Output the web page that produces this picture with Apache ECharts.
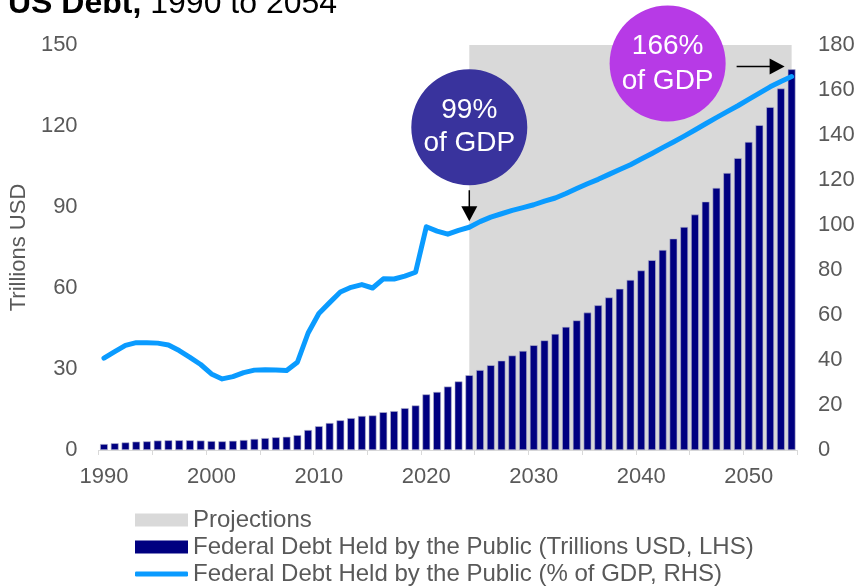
<!DOCTYPE html>
<html>
<head>
<meta charset="utf-8">
<script src="https://cdn.jsdelivr.net/npm/echarts@6/dist/echarts.min.js"></script>
<style>
  html, body { margin: 0; padding: 0; background: #fff; }
  #chart { width: 863px; height: 588px; }
</style>
</head>
<body>
<div id="chart"></div>
<script>
// Fiscal years on the category axis
const years = [
  '1990','1991','1992','1993','1994','1995','1996','1997','1998','1999',
  '2000','2001','2002','2003','2004','2005','2006','2007','2008','2009',
  '2010','2011','2012','2013','2014','2015','2016','2017','2018','2019',
  '2020','2021','2022','2023','2024','2025','2026','2027','2028','2029',
  '2030','2031','2032','2033','2034','2035','2036','2037','2038','2039',
  '2040','2041','2042','2043','2044','2045','2046','2047','2048','2049',
  '2050','2051','2052','2053','2054'
];

// Federal debt held by the public, trillions USD (left axis)
const debtTrillions = [
  2.2, 2.5, 2.8, 3.1, 3.2, 3.5, 3.6, 3.6, 3.6, 3.5,
  3.3, 3.2, 3.4, 3.7, 4.1, 4.4, 4.7, 4.9, 5.5, 7.4,
  8.8, 10.0, 11.0, 11.8, 12.6, 12.8, 14.0, 14.4, 15.5, 16.5,
  20.6, 21.5, 23.5, 25.4, 27.7, 29.6, 31.4, 33.1, 35.0, 36.7,
  38.8, 40.6, 43.0, 45.6, 48.0, 50.9, 53.6, 56.5, 59.7, 63.0,
  66.5, 70.3, 74.1, 78.3, 82.6, 87.2, 92.0, 97.1, 102.6, 108.1,
  114.1, 120.3, 127.0, 133.9, 141.0
];

// Federal debt held by the public, percent of GDP (right axis)
const debtPctGdp = [
  40.8, 43.7, 46.5, 47.7, 47.7, 47.5, 46.7, 44.2, 41.2, 38.0,
  33.8, 31.6, 32.6, 34.4, 35.5, 35.7, 35.6, 35.3, 39.0, 52.0,
  60.7, 65.5, 70.2, 72.3, 73.5, 72.0, 76.1, 76.0, 77.3, 79.0,
  99.2, 97.3, 95.9, 97.6, 99.0, 101.5, 103.5, 105.0, 106.5, 107.7,
  109.0, 110.6, 112.0, 114.0, 116.2, 118.3, 120.3, 122.5, 124.7, 126.8,
  129.3, 131.8, 134.4, 136.9, 139.5, 142.2, 145.0, 147.7, 150.4, 153.0,
  155.8, 158.6, 161.4, 163.8, 166.0
];

// Projection window shading and callouts
const projectionSpan = ['2024', '2054'];
const callouts = [
  { year: '2024', pct: 99,  text: '99%\nof GDP',  color: '#39339d' },
  { year: '2054', pct: 166, text: '166%\nof GDP', color: '#b73ae6' }
];

const NAME_PROJ = 'Projections';
const NAME_BAR = 'Federal Debt Held by the Public (Trillions USD, LHS)';
const NAME_LINE = 'Federal Debt Held by the Public (% of GDP, RHS)';

const FONT = 'Arial, "Liberation Sans", Helvetica, sans-serif';
const GREY_TEXT = '#595959';

const chart = echarts.init(document.getElementById('chart'), null, { renderer: 'canvas' });

const option = {
  animation: false,
  textStyle: { fontFamily: FONT },
  title: {
    text: '{b|US Debt,} 1990 to 2054',
    left: 8,
    top: -12,
    padding: 0,
    textStyle: {
      fontFamily: FONT,
      fontSize: 32,
      fontWeight: 'normal',
      color: '#000',
      rich: {
        b: { fontFamily: FONT, fontSize: 32, fontWeight: 'bold', color: '#000' }
      }
    }
  },
  grid: { left: 91, right: 66, top: 45, bottom: 138, containLabel: false },
  legend: [
    {
      data: [
        { name: NAME_PROJ, icon: 'rect' },
        { name: NAME_BAR, icon: 'rect' }
      ],
      orient: 'vertical',
      left: 135,
      top: 508,
      padding: 0,
      itemGap: 3,
      itemWidth: 53,
      itemHeight: 13,
      selectedMode: false,
      itemStyle: { borderWidth: 0 },
      textStyle: { fontFamily: FONT, fontSize: 24, color: GREY_TEXT, lineHeight: 24 }
    },
    {
      data: [{ name: NAME_LINE, icon: 'roundRect' }],
      orient: 'vertical',
      left: 135,
      top: 562,
      padding: 0,
      itemWidth: 53,
      itemHeight: 5,
      selectedMode: false,
      itemStyle: { borderWidth: 0 },
      textStyle: { fontFamily: FONT, fontSize: 24, color: GREY_TEXT, lineHeight: 24 }
    }
  ],
  xAxis: {
    type: 'category',
    data: years,
    boundaryGap: true,
    axisLine: { show: true, lineStyle: { color: '#d9d9d9', width: 1 } },
    axisTick: { show: true, interval: 4, length: 5, lineStyle: { color: '#d9d9d9' } },
    axisLabel: { interval: 9, fontSize: 22, color: GREY_TEXT, margin: 16, fontFamily: FONT },
    splitLine: { show: false }
  },
  yAxis: [
    {
      type: 'value',
      min: 0, max: 150, interval: 30,
      position: 'left',
      name: 'Trillions USD',
      nameLocation: 'middle',
      nameGap: 56,
      nameTextStyle: { fontSize: 22, color: GREY_TEXT, fontFamily: FONT },
      axisLine: { show: false },
      axisTick: { show: false },
      splitLine: { show: false },
      axisLabel: { fontSize: 22, color: GREY_TEXT, margin: 21, fontFamily: FONT }
    },
    {
      type: 'value',
      min: 0, max: 180, interval: 20,
      position: 'right',
      axisLine: { show: false },
      axisTick: { show: false },
      splitLine: { show: false },
      axisLabel: { fontSize: 22, color: GREY_TEXT, margin: 21, fontFamily: FONT }
    }
  ],
  series: [
    {
      name: NAME_PROJ,
      type: 'line',
      data: [],
      z: 0,
      itemStyle: { color: '#d9d9d9' },
      lineStyle: { color: '#d9d9d9' },
      markArea: {
        silent: true,
        itemStyle: { color: '#d9d9d9' },
        data: [[{ xAxis: projectionSpan[0] }, { xAxis: projectionSpan[1] }]]
      }
    },
    {
      name: NAME_BAR,
      type: 'bar',
      yAxisIndex: 0,
      data: debtTrillions,
      barWidth: '72%',
      z: 2,
      itemStyle: { color: '#000080', borderColor: '#b8b8cf', borderWidth: 0.6 }
    },
    {
      name: NAME_LINE,
      type: 'line',
      yAxisIndex: 1,
      data: debtPctGdp,
      z: 3,
      showSymbol: false,
      symbol: 'none',
      itemStyle: { color: '#0a9bff' },
      lineStyle: { color: '#0a9bff', width: 5, join: 'round', cap: 'round' }
    }
  ]
};

chart.setOption(option);

// Callout bubbles and arrows, anchored to the line values they describe
function buildCallouts() {
  const els = [];
  const head = 15, half = 8;

  // 2024: bubble above the point, arrow pointing down at the line
  {
    const c = callouts[0];
    const [px, py] = chart.convertToPixel({ xAxisIndex: 0, yAxisIndex: 1 }, [c.year, c.pct]);
    const cx = px, cy = py - 100;
    els.push({
      type: 'circle', z: 10,
      shape: { cx: cx, cy: cy, r: 58 },
      style: { fill: c.color }
    });
    els.push({
      type: 'text', z: 11,
      x: cx, y: cy,
      style: {
        text: c.text, fill: '#fff', font: '28px ' + FONT,
        align: 'center', verticalAlign: 'middle', lineHeight: 33
      }
    });
    const tipY = py - 6;
    els.push({
      type: 'line', z: 11,
      shape: { x1: px, y1: py - 37, x2: px, y2: tipY - head + 1 },
      style: { stroke: '#000', lineWidth: 1.5 }
    });
    els.push({
      type: 'polygon', z: 11,
      shape: { points: [[px - half, tipY - head], [px + half, tipY - head], [px, tipY]] },
      style: { fill: '#000' }
    });
  }

  // 2054: bubble to the upper left, arrow pointing right at the last bar
  {
    const c = callouts[1];
    const [px, py] = chart.convertToPixel({ xAxisIndex: 0, yAxisIndex: 1 }, [c.year, c.pct]);
    const cx = px - 124, cy = py - 13;
    els.push({
      type: 'circle', z: 10,
      shape: { cx: cx, cy: cy, r: 58 },
      style: { fill: c.color }
    });
    els.push({
      type: 'text', z: 11,
      x: cx, y: cy,
      style: {
        text: c.text, fill: '#fff', font: '28px ' + FONT,
        align: 'center', verticalAlign: 'middle', lineHeight: 35
      }
    });
    const ay = py - 10;
    const tipX = px - 7;
    els.push({
      type: 'line', z: 11,
      shape: { x1: px - 55, y1: ay, x2: tipX - head + 1, y2: ay },
      style: { stroke: '#000', lineWidth: 1.5 }
    });
    els.push({
      type: 'polygon', z: 11,
      shape: { points: [[tipX - head, ay - half], [tipX - head, ay + half], [tipX, ay]] },
      style: { fill: '#000' }
    });
  }
  return els;
}

chart.setOption({ graphic: buildCallouts() });
</script>
</body>
</html>
